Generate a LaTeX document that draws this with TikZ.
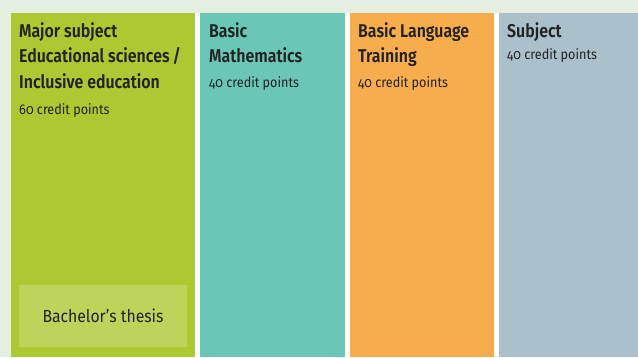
\documentclass[tikz,border=0pt]{standalone}
\usepackage{fontspec}
\setmainfont{Fira Sans}[FakeStretch=0.86,Numbers=OldStyle,BoldFont={Fira Sans SemiBold}]
\newfontfamily\cpfont{Fira Sans}[FakeStretch=0.9,Numbers=OldStyle]
\definecolor{bgc}{HTML}{E4EFDF}
\definecolor{greenc}{HTML}{ADC931}
\definecolor{tealc}{HTML}{6AC7B5}
\definecolor{orangec}{HTML}{F8AD4D}
\definecolor{greyc}{HTML}{AAC0CB}
\definecolor{thesisc}{HTML}{BDD45A}
\definecolor{txt}{HTML}{222222}
\tikzset{
  col/.style={fill=#1,draw=none,anchor=north west,inner sep=0pt,minimum height=344pt},
  ttl/.style={anchor=base west,inner sep=0pt,text=txt,font=\fontsize{18.5}{22}\selectfont\bfseries},
  cp/.style={anchor=base west,inner sep=0pt,text=txt,font=\cpfont\fontsize{14}{16}\selectfont},
}
\begin{document}
\begin{tikzpicture}[x=1pt,y=-1pt]
\fill[bgc] (0,0) rectangle (638,357);
\useasboundingbox (0,0) rectangle (638,357);
\fill[white] (195,13) rectangle (499,357);
\node[col=greenc,minimum width=184pt] (c1) at (11,13) {};
\node[col=tealc,minimum width=144.5pt] (c2) at (200,13) {};
\node[col=orangec,minimum width=144.5pt] (c3) at (349.5,13) {};
\node[col=greyc,minimum width=139pt] (c4) at (499,13) {};
% column 1
\node[ttl] (t1a) at (19,37) {Major subject};
\node[ttl] (t1b) at (19,62.5) {Educational sciences\,/};
\node[ttl] (t1c) at (19,88) {Inclusive education};
\node[cp] (p1) at (19,114.5) {60 credit points};
\node[fill=thesisc,minimum width=168pt,minimum height=61.5pt,inner sep=0pt,text=txt,font=\cpfont\fontsize{17.5}{20}\selectfont] (th) at (103,316) {Bachelor’s thesis};
% column 2
\node[ttl] (t2a) at (209,37) {Basic};
\node[ttl] (t2b) at (209,62.5) {Mathematics};
\node[cp] (p2) at (209,87) {40 credit points};
% column 3
\node[ttl] (t3a) at (358,37) {Basic Language};
\node[ttl] (t3b) at (358,62.5) {Training};
\node[cp] (p3) at (358,87) {40 credit points};
% column 4
\node[ttl] (t4a) at (507,37) {Subject};
\node[cp] (p4) at (507,59) {40 credit points};
\end{tikzpicture}
\end{document}
